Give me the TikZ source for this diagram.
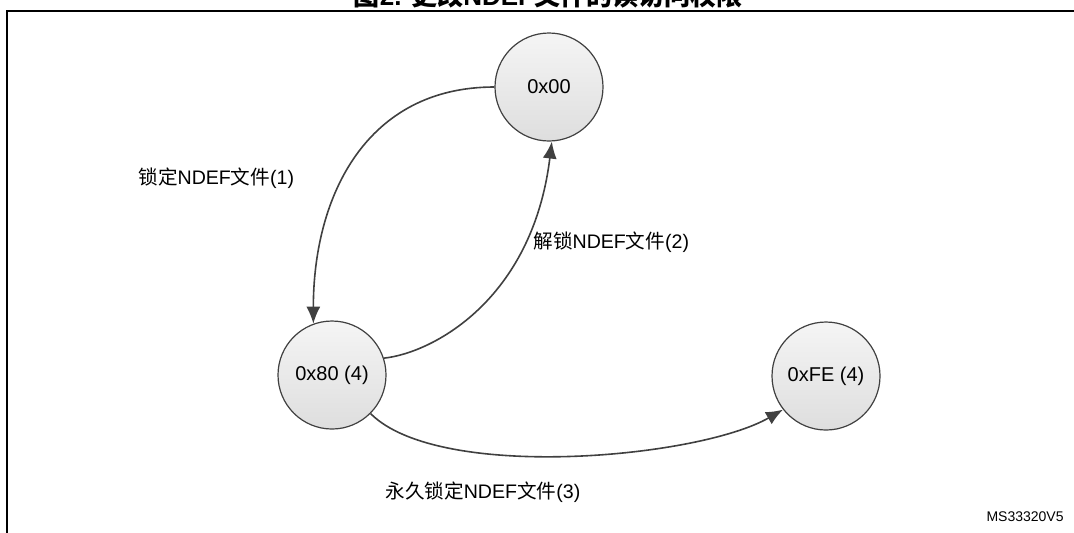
\documentclass[tikz,border=0pt]{standalone}
\usepackage{fontspec}
\setmainfont{Liberation Sans}
\newfontfamily\cjk{Noto Sans CJK SC}
\usepackage{tikz}
\usetikzlibrary{arrows.meta}

\newcommand{\zh}[1]{{\cjk #1}}

\begin{document}
\begin{tikzpicture}[
    x=0.5pt,y=-0.5pt,
    state/.style={circle, draw=black!75, line width=0.6pt, minimum size=54pt,
                  inner sep=0pt, top color=black!4, bottom color=black!13,
                  font=\fontsize{10}{12}\selectfont},
    trans/.style={-{Latex[length=8.5pt,width=7pt]}, draw=black!75, line width=0.8pt},
    lbl/.style={font=\fontsize{9.8}{12}\selectfont, inner sep=0pt}
]
\useasboundingbox (0,0) rectangle (1074,532);

% Frame and title
\draw[line width=1.3pt] (7,560) -- (7,11) -- (1100,11);
\node[anchor=base, inner sep=0pt, font=\fontsize{13}{15}\selectfont\bfseries]
    (title) at (548,5) {\zh{图}2. \zh{更改}NDEF\zh{文件的读访问权限}};

% States
\node[state] (n00) at (549,87) {0x00};
\node[state] (n80) at (332,375) {0x80 (4)};
\node[state] (nFE) at (826,376) {0xFE (4)};

% Transitions
\draw[trans] (n00.180) to[out=180, in=90, looseness=1.1] (n80.110);
\draw[trans] (n80.18) to[out=6, in=-97, out looseness=0.45, in looseness=1.5] (n00.273);
\draw[trans] (n80.315) to[out=-45, in=210, looseness=0.6] (nFE.218);

\node[lbl, anchor=west] (l1) at (138,178) {\zh{锁定}NDEF\zh{文件}(1)};
\node[lbl, anchor=west] (l2) at (533,242) {\zh{解锁}NDEF\zh{文件}(2)};
\node[lbl, anchor=west] (l3) at (385,492) {\zh{永久锁定}NDEF\zh{文件}(3)};

\node[anchor=east, inner sep=0pt, font=\fontsize{7}{8}\selectfont] (ref) at (1064,517) {MS33320V5};
\end{tikzpicture}
\end{document}
